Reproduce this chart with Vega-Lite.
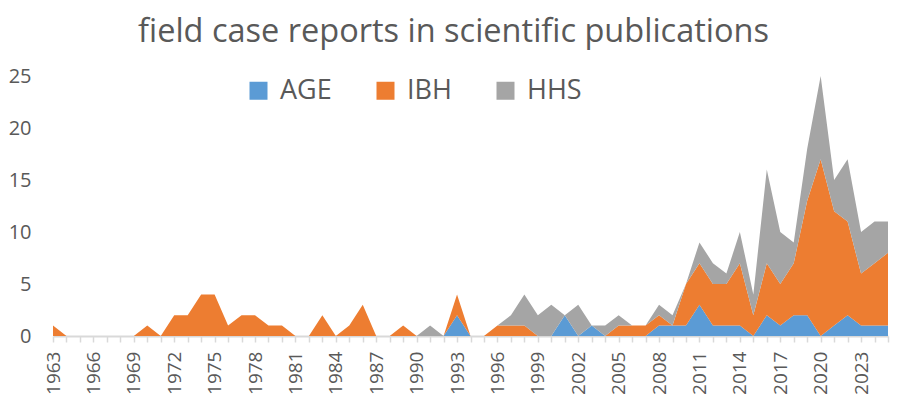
{
  "$schema": "https://vega.github.io/schema/vega-lite/v6.json",
  "width": 835,
  "height": 260,
  "autosize": {"type": "none"},
  "padding": {"left": 53, "top": 76, "right": 17, "bottom": 64},
  "background": "white",
  "title": {"text": "field case reports in scientific publications", "fontSize": 32.5, "font": "Open Sans", "fontWeight": "normal", "color": "#595959", "anchor": "middle", "dx": -17, "offset": 18},
  "data": {"values": [
    {"year": 1963, "AGE": 0, "IBH": 1, "HHS": 0},
    {"year": 1964, "AGE": 0, "IBH": 0, "HHS": 0},
    {"year": 1965, "AGE": 0, "IBH": 0, "HHS": 0},
    {"year": 1966, "AGE": 0, "IBH": 0, "HHS": 0},
    {"year": 1967, "AGE": 0, "IBH": 0, "HHS": 0},
    {"year": 1968, "AGE": 0, "IBH": 0, "HHS": 0},
    {"year": 1969, "AGE": 0, "IBH": 0, "HHS": 0},
    {"year": 1970, "AGE": 0, "IBH": 1, "HHS": 0},
    {"year": 1971, "AGE": 0, "IBH": 0, "HHS": 0},
    {"year": 1972, "AGE": 0, "IBH": 2, "HHS": 0},
    {"year": 1973, "AGE": 0, "IBH": 2, "HHS": 0},
    {"year": 1974, "AGE": 0, "IBH": 4, "HHS": 0},
    {"year": 1975, "AGE": 0, "IBH": 4, "HHS": 0},
    {"year": 1976, "AGE": 0, "IBH": 1, "HHS": 0},
    {"year": 1977, "AGE": 0, "IBH": 2, "HHS": 0},
    {"year": 1978, "AGE": 0, "IBH": 2, "HHS": 0},
    {"year": 1979, "AGE": 0, "IBH": 1, "HHS": 0},
    {"year": 1980, "AGE": 0, "IBH": 1, "HHS": 0},
    {"year": 1981, "AGE": 0, "IBH": 0, "HHS": 0},
    {"year": 1982, "AGE": 0, "IBH": 0, "HHS": 0},
    {"year": 1983, "AGE": 0, "IBH": 2, "HHS": 0},
    {"year": 1984, "AGE": 0, "IBH": 0, "HHS": 0},
    {"year": 1985, "AGE": 0, "IBH": 1, "HHS": 0},
    {"year": 1986, "AGE": 0, "IBH": 3, "HHS": 0},
    {"year": 1987, "AGE": 0, "IBH": 0, "HHS": 0},
    {"year": 1988, "AGE": 0, "IBH": 0, "HHS": 0},
    {"year": 1989, "AGE": 0, "IBH": 1, "HHS": 0},
    {"year": 1990, "AGE": 0, "IBH": 0, "HHS": 0},
    {"year": 1991, "AGE": 0, "IBH": 0, "HHS": 1},
    {"year": 1992, "AGE": 0, "IBH": 0, "HHS": 0},
    {"year": 1993, "AGE": 2, "IBH": 2, "HHS": 0},
    {"year": 1994, "AGE": 0, "IBH": 0, "HHS": 0},
    {"year": 1995, "AGE": 0, "IBH": 0, "HHS": 0},
    {"year": 1996, "AGE": 0, "IBH": 1, "HHS": 0},
    {"year": 1997, "AGE": 0, "IBH": 1, "HHS": 1},
    {"year": 1998, "AGE": 0, "IBH": 1, "HHS": 3},
    {"year": 1999, "AGE": 0, "IBH": 0, "HHS": 2},
    {"year": 2000, "AGE": 0, "IBH": 0, "HHS": 3},
    {"year": 2001, "AGE": 2, "IBH": 0, "HHS": 0},
    {"year": 2002, "AGE": 0, "IBH": 0, "HHS": 3},
    {"year": 2003, "AGE": 1, "IBH": 0, "HHS": 0},
    {"year": 2004, "AGE": 0, "IBH": 0, "HHS": 1},
    {"year": 2005, "AGE": 0, "IBH": 1, "HHS": 1},
    {"year": 2006, "AGE": 0, "IBH": 1, "HHS": 0},
    {"year": 2007, "AGE": 0, "IBH": 1, "HHS": 0},
    {"year": 2008, "AGE": 1, "IBH": 1, "HHS": 1},
    {"year": 2009, "AGE": 1, "IBH": 0, "HHS": 1},
    {"year": 2010, "AGE": 1, "IBH": 4, "HHS": 0},
    {"year": 2011, "AGE": 3, "IBH": 4, "HHS": 2},
    {"year": 2012, "AGE": 1, "IBH": 4, "HHS": 2},
    {"year": 2013, "AGE": 1, "IBH": 4, "HHS": 1},
    {"year": 2014, "AGE": 1, "IBH": 6, "HHS": 3},
    {"year": 2015, "AGE": 0, "IBH": 2, "HHS": 2},
    {"year": 2016, "AGE": 2, "IBH": 5, "HHS": 9},
    {"year": 2017, "AGE": 1, "IBH": 4, "HHS": 5},
    {"year": 2018, "AGE": 2, "IBH": 5, "HHS": 2},
    {"year": 2019, "AGE": 2, "IBH": 11, "HHS": 5},
    {"year": 2020, "AGE": 0, "IBH": 17, "HHS": 8},
    {"year": 2021, "AGE": 1, "IBH": 11, "HHS": 3},
    {"year": 2022, "AGE": 2, "IBH": 9, "HHS": 6},
    {"year": 2023, "AGE": 1, "IBH": 5, "HHS": 4},
    {"year": 2024, "AGE": 1, "IBH": 6, "HHS": 4},
    {"year": 2025, "AGE": 1, "IBH": 7, "HHS": 3}
  ]},
  "transform": [
    {"fold": ["AGE", "IBH", "HHS"], "as": ["series", "count"]},
    {"calculate": "indexof(['AGE','IBH','HHS'], datum.series)", "as": "ord"}
  ],
  "mark": {"type": "area", "interpolate": "linear"},
  "encoding": {
    "x": {
      "field": "year", "type": "quantitative",
      "scale": {"domain": [1963, 2025], "nice": false, "zero": false},
      "axis": {
        "values": [1963,1964,1965,1966,1967,1968,1969,1970,1971,1972,1973,1974,1975,1976,1977,1978,1979,1980,1981,1982,1983,1984,1985,1986,1987,1988,1989,1990,1991,1992,1993,1994,1995,1996,1997,1998,1999,2000,2001,2002,2003,2004,2005,2006,2007,2008,2009,2010,2011,2012,2013,2014,2015,2016,2017,2018,2019,2020,2021,2022,2023,2024,2025],
        "labelExpr": "(datum.value - 1963) % 3 == 0 ? '' + datum.value : ''",
        "labelAngle": -90, "labelAlign": "right", "labelBaseline": "middle",
        "labelFontSize": 19, "labelFont": "Open Sans", "labelColor": "#595959",
        "labelOverlap": false, "labelPadding": 9, "labelFlush": false,
        "tickColor": "#D9D9D9", "tickSize": 6, "tickWidth": 1.5,
        "domainColor": "#D9D9D9", "domainWidth": 2,
        "grid": false, "title": null
      }
    },
    "y": {
      "field": "count", "type": "quantitative", "stack": "zero",
      "scale": {"domain": [0, 25], "nice": false},
      "axis": {"values": [0, 5, 10, 15, 20, 25], "grid": false, "domain": false, "ticks": false, "labelPadding": 22, "labelFontSize": 20, "labelFont": "Open Sans", "labelColor": "#595959", "title": null}
    },
    "color": {
      "field": "series", "type": "nominal",
      "scale": {"domain": ["AGE", "IBH", "HHS"], "range": ["#5B9BD5", "#ED7D31", "#A5A5A5"]},
      "legend": {"orient": "none", "direction": "horizontal", "legendX": 192, "legendY": 1, "symbolType": "square", "symbolSize": 324, "symbolStrokeWidth": 0, "symbolOpacity": 1, "labelFontSize": 27, "labelFont": "Open Sans", "labelColor": "#595959", "labelOffset": 8, "columnPadding": 40, "title": null}
    },
    "order": {"field": "ord", "type": "quantitative"}
  },
  "config": {"view": {"stroke": null}}
}
